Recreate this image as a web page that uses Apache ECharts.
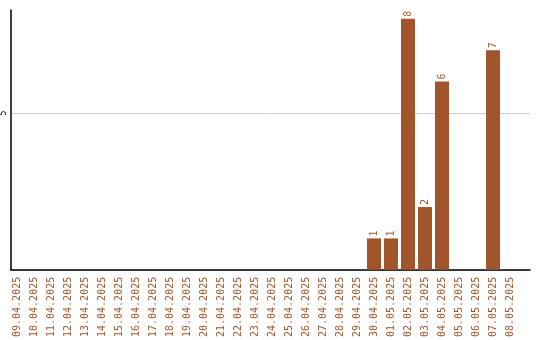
<!DOCTYPE html>
<html>
<head>
<meta charset="utf-8">
<script src="https://cdn.jsdelivr.net/npm/echarts@6/dist/echarts.min.js"></script>
<style>
  html, body { margin: 0; padding: 0; background: #fff; }
  #chart { width: 540px; height: 340px; }
</style>
</head>
<body>
<div id="chart"></div>
<script>
var dates = ['09.04.2025', '10.04.2025', '11.04.2025', '12.04.2025', '13.04.2025',
  '14.04.2025', '15.04.2025', '16.04.2025', '17.04.2025', '18.04.2025',
  '19.04.2025', '20.04.2025', '21.04.2025', '22.04.2025', '23.04.2025',
  '24.04.2025', '25.04.2025', '26.04.2025', '27.04.2025', '28.04.2025',
  '29.04.2025', '30.04.2025', '01.05.2025', '02.05.2025', '03.05.2025',
  '04.05.2025', '05.05.2025', '06.05.2025', '07.05.2025', '08.05.2025']
var counts = [0, 0, 0, 0, 0, 0, 0, 0, 0, 0,
  0, 0, 0, 0, 0, 0, 0, 0, 0, 0,
  0, 1, 1, 8, 2, 6, 0, 0, 7, 0]

var brown = '#a0562a'
var font = 'DejaVu Sans Mono'
var yMax = 8.28

var myChart = echarts.init(document.getElementById('chart'))
myChart.setOption({
  animation: false,
  grid: [
    // frame: axis lines + gridline
    { left: 11, right: 10, top: 10, bottom: 70 },
    // bars and date labels
    { left: 8.5, right: 21.5, top: 10, bottom: 70 }
  ],
  xAxis: [
    {
      gridIndex: 0,
      type: 'category',
      data: [''],
      axisLine: { lineStyle: { color: '#000', width: 1.5 } },
      axisTick: { show: false },
      axisLabel: { show: false }
    },
    {
      gridIndex: 1,
      type: 'category',
      data: dates,
      axisLine: { show: false },
      axisTick: { show: false },
      axisLabel: {
        rotate: 90,
        interval: 0,
        margin: 7,
        color: brown,
        fontFamily: font,
        fontSize: 10
      }
    }
  ],
  yAxis: [
    {
      gridIndex: 0,
      type: 'value',
      min: 0,
      max: yMax,
      interval: 5,
      axisLine: { show: true, lineStyle: { color: '#000', width: 1.5 } },
      axisTick: { show: false },
      splitLine: { showMaxLine: false, lineStyle: { color: '#ccc' } },
      axisLabel: {
        rotate: 90,
        margin: 3,
        color: '#000',
        fontFamily: font,
        fontSize: 8,
        formatter: function (v) { return v === 5 ? '5' : '' }
      }
    },
    {
      gridIndex: 1,
      type: 'value',
      min: 0,
      max: yMax,
      show: false
    }
  ],
  series: [
    {
      type: 'bar',
      xAxisIndex: 1,
      yAxisIndex: 1,
      data: counts.map(function (v) { return v === 0 ? null : v }),
      barWidth: 14,
      itemStyle: { color: brown },
      label: {
        show: true,
        position: 'top',
        rotate: 90,
        align: 'left',
        verticalAlign: 'middle',
        distance: 2,
        color: brown,
        fontFamily: font,
        fontSize: 10
      }
    }
  ]
})
</script>
</body>
</html>
